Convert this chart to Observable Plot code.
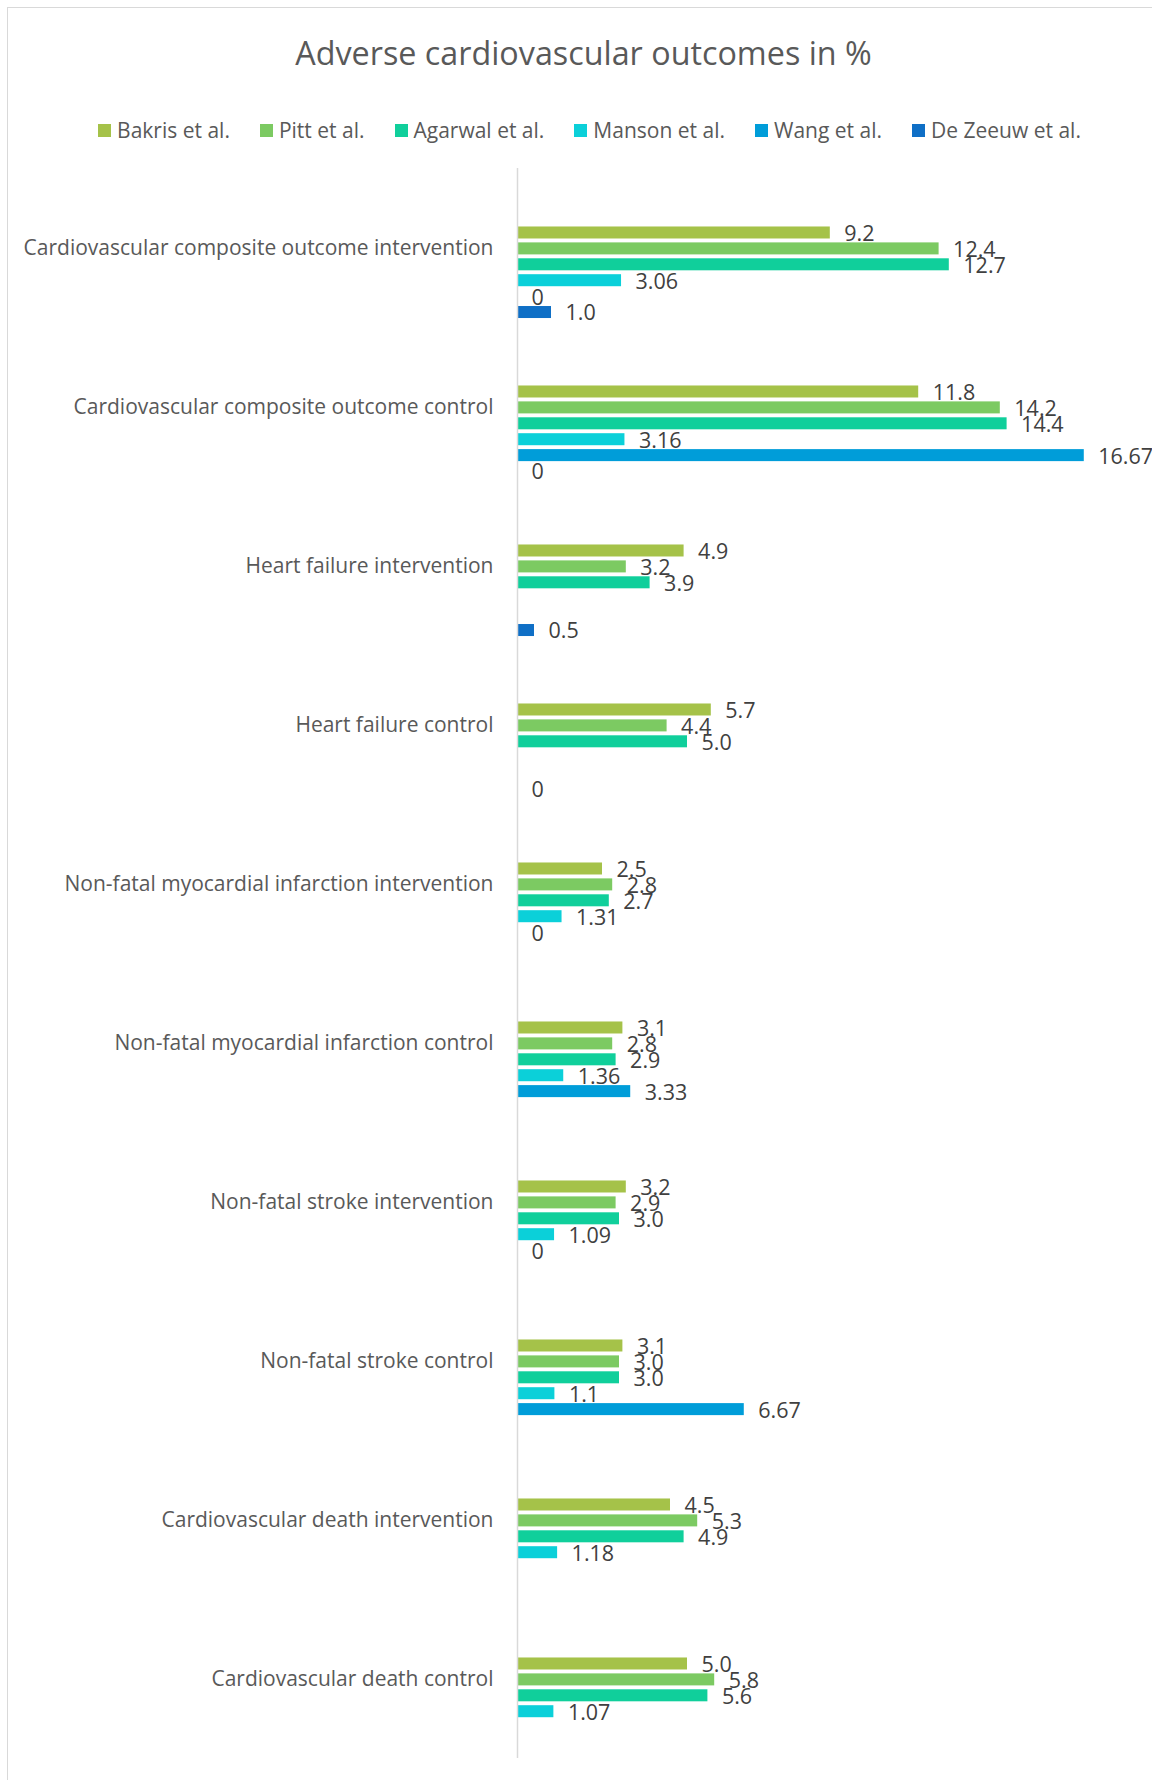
<!DOCTYPE html>
<html>
<head>
<meta charset="utf-8">
<script src="https://cdn.jsdelivr.net/npm/d3@7"></script>
<script src="https://cdn.jsdelivr.net/npm/@observablehq/plot@0.6"></script>
<style>
  html, body { margin: 0; padding: 0; background: #fff; }
  body { width: 1152px; height: 1780px; overflow: hidden; position: relative; font-family: "Open Sans", sans-serif; }
  #frame { position: absolute; left: 7px; top: 7px; width: 1200px; height: 1800px; border-left: 1.5px solid #d9d9d9; border-top: 1.5px solid #d9d9d9; pointer-events: none; }
  #header { position: relative; height: 150px; }
  #title { position: absolute; left: 0; width: 1167px; top: 31px; text-align: center; font-size: 32.3px; color: #595959; line-height: 42px; }
  #legend { position: absolute; left: 0; width: 1179px; top: 116px; display: flex; justify-content: center; gap: 30px; font-size: 21px; color: #595959; line-height: 28px; }
  .item { display: flex; align-items: center; }
  .sw { width: 13px; height: 13px; margin-right: 6px; }
  #chart svg { display: block; }
</style>
</head>
<body>
<div id="frame"></div>
<div id="header">
  <div id="title"></div>
  <div id="legend"></div>
</div>
<div id="chart"></div>
<script>
const title = "Adverse cardiovascular outcomes in %";

const categories = [
  "Cardiovascular composite outcome intervention",
  "Cardiovascular composite outcome control",
  "Heart failure intervention",
  "Heart failure control",
  "Non-fatal myocardial infarction intervention",
  "Non-fatal myocardial infarction control",
  "Non-fatal stroke intervention",
  "Non-fatal stroke control",
  "Cardiovascular death intervention",
  "Cardiovascular death control"
];

const seriesNames = ["Bakris et al.", "Pitt et al.", "Agarwal et al.", "Manson et al.", "Wang et al.", "De Zeeuw et al."];
const seriesColors = ["#A5C249", "#7CCA62", "#10CF9B", "#0BD0D9", "#009DD9", "#0F6FC6"];

const bakris   = [9.2, 11.8, 4.9, 5.7, 2.5, 3.1, 3.2, 3.1, 4.5, 5.0];
const pitt     = [12.4, 14.2, 3.2, 4.4, 2.8, 2.8, 2.9, 3.0, 5.3, 5.8];
const agarwal  = [12.7, 14.4, 3.9, 5.0, 2.7, 2.9, 3.0, 3.0, 4.9, 5.6];
const manson   = [3.06, 3.16, null, null, 1.31, 1.36, 1.09, 1.1, 1.18, 1.07];
const wang     = [0, 16.67, null, null, 0, 3.33, 0, 6.67, null, null];
const dezeeuw  = [1.0, 0, 0.5, 0, null, null, null, null, null, null];

// label number format per series: "fixed1" = one decimal, "general" = as-is
const seriesFormats = ["fixed1", "fixed1", "fixed1", "general", "general", "fixed1"];

const seriesValues = [bakris, pitt, agarwal, manson, wang, dezeeuw];

function fmt(v, f) {
  if (v === 0) return "0";
  return f === "fixed1" ? v.toFixed(1) : String(v);
}

const rows = [];
categories.forEach((c, i) => {
  seriesValues.forEach((vals, j) => {
    const v = vals[i];
    if (v !== null && v !== undefined) {
      rows.push({category: c, series: seriesNames[j], value: v, label: fmt(v, seriesFormats[j])});
    }
  });
});

document.getElementById("title").textContent = title;
const legend = document.getElementById("legend");
seriesNames.forEach((s, j) => {
  const it = document.createElement("div");
  it.className = "item";
  const sw = document.createElement("span");
  sw.className = "sw";
  sw.style.background = seriesColors[j];
  const tx = document.createElement("span");
  tx.textContent = s;
  it.appendChild(sw);
  it.appendChild(tx);
  legend.appendChild(it);
});

const chart = Plot.plot({
  width: 1152,
  height: 1620,
  marginLeft: 517,
  marginRight: 23,
  marginTop: 18,
  marginBottom: 12,
  style: {fontFamily: "'Open Sans', sans-serif", fontSize: "21px", color: "#595959", background: "transparent"},
  x: {domain: [0, 18], axis: null},
  y: {domain: seriesNames, axis: null, paddingInner: 0.245, paddingOuter: 2.12, align: 0.867, round: false},
  fy: {domain: categories, padding: 0, round: false, label: null, tickSize: 0, tickPadding: 24, axis: "left"},
  color: {domain: seriesNames, range: seriesColors},
  marks: [
    Plot.barX(rows, {fy: "category", y: "series", x: "value", fill: "series"}),
    Plot.ruleX([0], {stroke: "#d9d9d9", strokeWidth: 1.5}),
    Plot.text(rows, {fy: "category", y: "series", x: "value", text: "label", textAnchor: "start", dx: 14, dy: 1, fill: "#404040", fontSize: 21.5, fontFamily: "'Open Sans', sans-serif"})
  ]
});
document.getElementById("chart").appendChild(chart);
</script>
</body>
</html>
